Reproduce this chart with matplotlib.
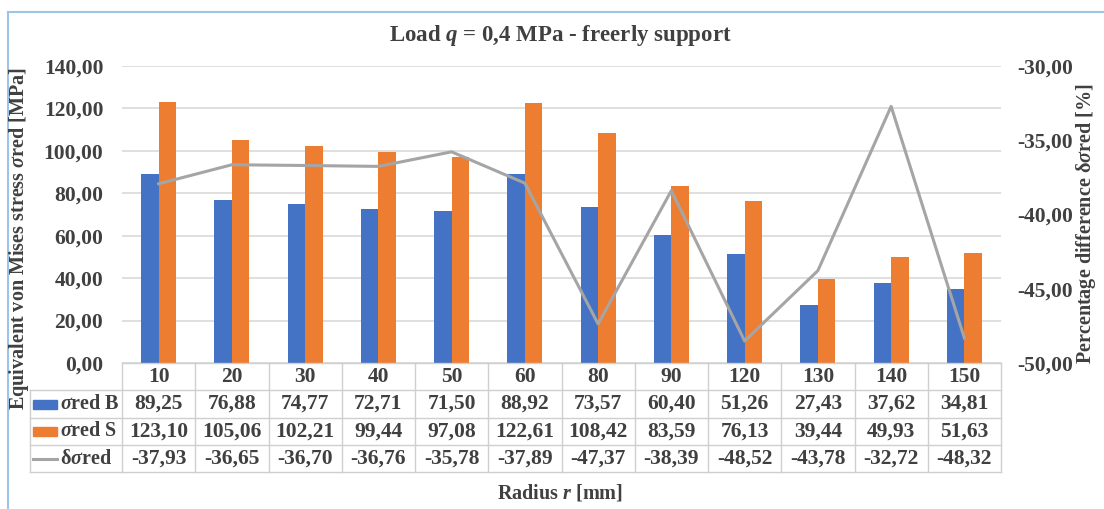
import matplotlib
matplotlib.use("Agg")
import matplotlib.pyplot as plt
from matplotlib.lines import Line2D
from matplotlib.patches import Rectangle

# Data
radius = ["10", "20", "30", "40", "50", "60", "80", "90", "120", "130", "140", "150"]
sigma_b = [89.25, 76.88, 74.77, 72.71, 71.50, 88.92, 73.57, 60.40, 51.26, 27.43, 37.62, 34.81]
sigma_s = [123.10, 105.06, 102.21, 99.44, 97.08, 122.61, 108.42, 83.59, 76.13, 39.44, 49.93, 51.63]
delta = [-37.93, -36.65, -36.70, -36.76, -35.78, -37.89, -47.37, -38.39, -48.52, -43.78, -32.72, -48.32]

left_ticks = [0, 20, 40, 60, 80, 100, 120, 140]
right_ticks = [-50, -45, -40, -35, -30]

BLUE = "#4472C4"
ORANGE = "#ED7D31"
GRAY = "#A5A5A5"
TXT = "#404040"
GRID = "#D9D9D9"

plt.rcParams["font.family"] = ["Liberation Serif", "DejaVu Serif"]
plt.rcParams["font.weight"] = "bold"
plt.rcParams["mathtext.fontset"] = "custom"
plt.rcParams["mathtext.rm"] = "Liberation Serif:bold"
plt.rcParams["mathtext.it"] = "Liberation Serif:italic:bold"
plt.rcParams["mathtext.bf"] = "Liberation Serif:bold"

W, H = 1104, 509
fig = plt.figure(figsize=(W / 100, H / 100), dpi=100)

def fx(px):
    return px / W

def fy(py):
    return 1 - py / H

def fmt(v):
    return f"{v:.2f}".replace(".", ",")

x0, x1, y_top, y_bot = 122, 1001, 66, 363
ax = fig.add_axes([fx(x0), fy(y_bot), fx(x1 - x0), (y_bot - y_top) / H])

n = len(radius)
idx = list(range(n))
bw = 0.24
ax.bar([i - bw / 2 for i in idx], sigma_b, width=bw, color=BLUE, zorder=2)
ax.bar([i + bw / 2 for i in idx], sigma_s, width=bw, color=ORANGE, zorder=2)
ax.set_xlim(-0.5, n - 0.5)
ax.set_ylim(0, 140)
ax.set_yticks(left_ticks)
ax.set_yticklabels([fmt(v) for v in left_ticks])
ax.set_xticks([])
ax.yaxis.grid(True, color=GRID, lw=1.2, zorder=0)
ax.set_axisbelow(True)
for s in ax.spines.values():
    s.set_visible(False)
ax.tick_params(axis="y", length=0, pad=13.5, labelsize=15.5, labelcolor=TXT)

ax2 = ax.twinx()
ax2.plot(idx, delta, color=GRAY, lw=2.2, zorder=3)
ax2.set_ylim(-50, -30)
ax2.set_yticks(right_ticks)
ax2.set_yticklabels([fmt(v) for v in right_ticks])
for s in ax2.spines.values():
    s.set_visible(False)
ax2.tick_params(axis="y", length=0, pad=12, labelsize=15.5, labelcolor=TXT)

# Data table below the plot
col_w = (x1 - x0) / n
rows_y = [363, 390, 418, 445, 472]
lab_x = 30
tc = "#CFCFCF"
lines = []
lines.append(Line2D([fx(x0), fx(x1)], [fy(rows_y[0])] * 2))
for ry in rows_y[1:]:
    lines.append(Line2D([fx(lab_x), fx(x1)], [fy(ry)] * 2))
for k in range(n + 1):
    xx = x0 + k * col_w
    lines.append(Line2D([fx(xx)] * 2, [fy(rows_y[0]), fy(rows_y[-1])]))
lines.append(Line2D([fx(lab_x)] * 2, [fy(rows_y[1]), fy(rows_y[-1])]))
for ln in lines:
    ln.set_color(tc)
    ln.set_linewidth(1)
    fig.add_artist(ln)

row_vals = [
    radius,
    [fmt(v) for v in sigma_b],
    [fmt(v) for v in sigma_s],
    [fmt(v) for v in delta],
]
for r, vals in enumerate(row_vals):
    cy = (rows_y[r] + rows_y[r + 1]) / 2
    for k, t in enumerate(vals):
        cx = x0 + (k + 0.5) * col_w
        fig.text(fx(cx), fy(cy), t, ha="center", va="center",
                 fontsize=15.5, color=TXT, fontweight="bold")

# Row labels with legend keys
labels = [r"$\sigma$red B", r"$\sigma$red S", r"δ$\sigma$red"]
for r, lab in enumerate(labels):
    cy = (rows_y[r + 1] + rows_y[r + 2]) / 2
    if r < 2:
        fig.add_artist(Rectangle((fx(33), fy(cy + 4.5)), fx(24), 9 / H,
                                 color=[BLUE, ORANGE][r], transform=fig.transFigure))
    else:
        fig.add_artist(Line2D([fx(33), fx(57)], [fy(cy)] * 2, color=GRAY, lw=2.2))
    fig.text(fx(60), fy(cy), lab, ha="left", va="center", fontsize=14.5,
             color=TXT, fontweight="bold")

# Titles and axis labels
fig.text(fx(560), fy(36), r"Load $q$ = 0,4 MPa - freerly support", ha="center",
         va="center", fontsize=16.5, color=TXT, fontweight="bold")
fig.text(fx(560), fy(493), r"Radius $r$ [mm]", ha="center", va="center",
         fontsize=14.5, color=TXT, fontweight="bold")
fig.text(fx(19), fy(239), r"Equivalent von Mises stress $\sigma$red [MPa]",
         ha="center", va="center", rotation=90, fontsize=14.5, color=TXT,
         fontweight="bold")
fig.text(fx(1086), fy(224), r"Percentage difference δ$\sigma$red [%]",
         ha="center", va="center", rotation=90, fontsize=14.5, color=TXT,
         fontweight="bold")

# Chart frame
fig.add_artist(Line2D([fx(8), fx(8)], [fy(12), 0], color="#9DC3E6", lw=1.5))
fig.add_artist(Line2D([fx(8), 1], [fy(12), fy(12)], color="#9DC3E6", lw=1.5))

fig.savefig("out.png", dpi=100)
